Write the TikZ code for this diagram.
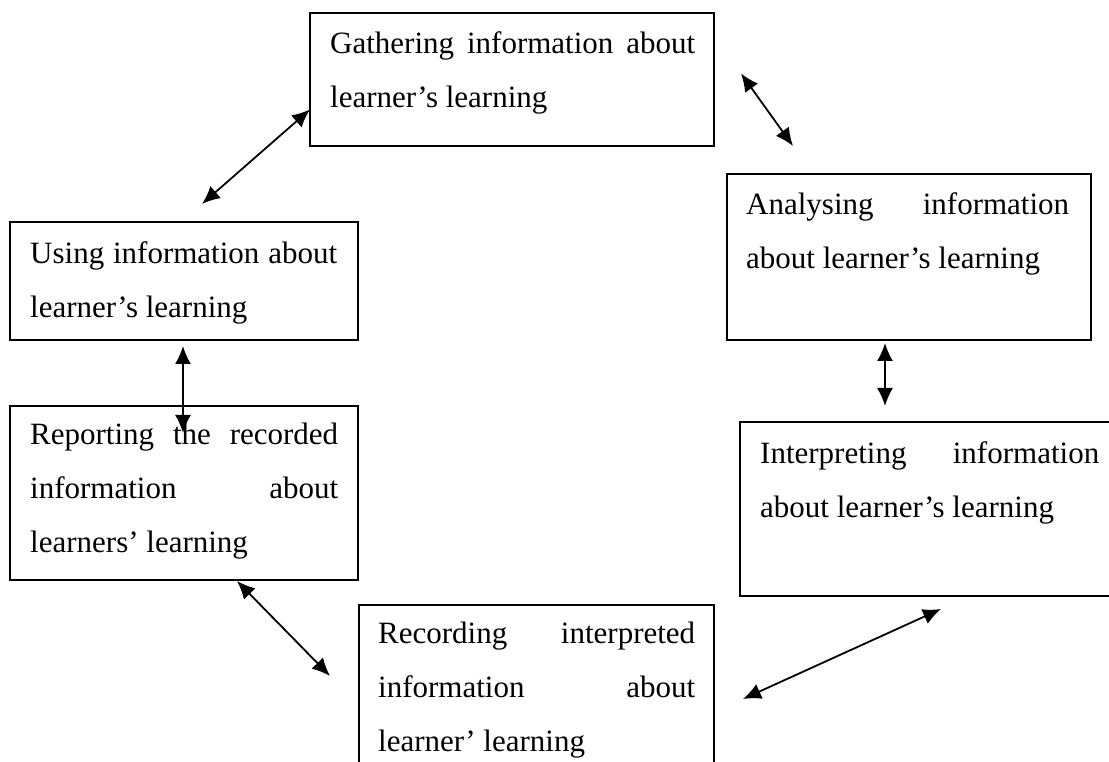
\documentclass[tikz,border=0pt]{standalone}
\usepackage{fontspec}
\setmainfont{Liberation Serif}
\usetikzlibrary{arrows.meta}
\usetikzlibrary{positioning}
\tikzset{stage/.style = {draw, line width=1.6pt, inner sep=0, outer sep=0}}
\tikzset{stagetext/.style = {inner sep=0, align=justify,
                             font=\fontsize{31pt}{54pt}\selectfont}}
\tikzset{link/.style = {<->, >={Latex[length=18pt,width=16pt]}, line width=1.8pt}}

\begin{document}
\begin{tikzpicture}[x=1pt, y=1pt]
    \clip (0,0) rectangle (1109,762);
    % boxes
    \node [stage, minimum width=404pt, minimum height=133pt] (gather) at (512,682.5) {};
    \node [stage, minimum width=364pt, minimum height=166pt] (analyse) at (909,505) {};
    \node [stage, minimum width=385pt, minimum height=174pt] (interpret) at (932.5,253) {};
    \node [stage, minimum width=355pt, minimum height=175pt] (record) at (536.5,69.5) {};
    \node [stage, minimum width=348pt, minimum height=174pt] (report) at (184,269) {};
    \node [stage, minimum width=348pt, minimum height=118pt] (use) at (184,481) {};
    % texts
    \node [stagetext, text width=365pt, below right=18pt and 20pt of gather.north west] (gathertext)
      {Gathering information about\linebreak learner's learning};
    \node [stagetext, text width=323pt, below right=18pt and 19pt of analyse.north west] (analysetext)
      {Analysing information\linebreak about learner's learning};
    \node [stagetext, text width=339pt, below right=19pt and 20pt of interpret.north west] (interprettext)
      {Interpreting information\linebreak about learner's learning};
    \node [stagetext, text width=317pt, below right=17pt and 19pt of record.north west] (recordtext)
      {Recording interpreted\linebreak information about\linebreak learner' learning};
    \node [stagetext, text width=308pt, below right=17pt and 20pt of report.north west] (reporttext)
      {Reporting the recorded\linebreak information about\linebreak learners' learning};
    \node [stagetext, text width=307pt, below right=19pt and 20pt of use.north west] (usetext)
      {Using information about\linebreak learner's learning};
    % arrows
    \draw [link] ([xshift=18pt,yshift=18pt]use.north) -- ([yshift=-30pt]gather.west);
    \draw [link] ([xshift=27pt,yshift=6pt]gather.east) -- ([xshift=-116pt,yshift=28pt]analyse.north);
    \draw [link] ([xshift=-24pt,yshift=-3pt]analyse.south)
      -- ([xshift=-24pt,yshift=16pt]analyse.south |- interpret.north);
    \draw [link] ([xshift=8.5pt,yshift=-13pt]interpret.south) -- ([xshift=29pt,yshift=-6.5pt]record.east);
    \draw [link] ([xshift=53pt,yshift=-1pt]report.south) -- ([xshift=-29pt,yshift=16.5pt]record.west);
    \draw [link] ([xshift=-1pt,yshift=-6pt]use.south) -- ([xshift=-1pt,yshift=-27pt]report.north);
\end{tikzpicture}
\end{document}
